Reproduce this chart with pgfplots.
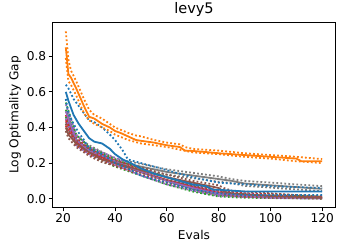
\documentclass[border=0pt]{standalone}
\usepackage{pgfplots}
\pgfplotsset{compat=1.18}
\usepackage{fontspec}
\setmainfont{DejaVu Sans}
\definecolor{C0}{HTML}{1F77B4}
\definecolor{C1}{HTML}{FF7F0E}
\definecolor{C2}{HTML}{2CA02C}
\definecolor{C3}{HTML}{D62728}
\definecolor{C4}{HTML}{9467BD}
\definecolor{C5}{HTML}{8C564B}
\definecolor{C7}{HTML}{7F7F7F}
\begin{document}
\begin{tikzpicture}[x=1bp,y=1bp]
\useasboundingbox (0,0) rectangle (338bp,243bp);
\begin{axis}[
  at={(53bp,36bp)}, anchor=south west,
  scale only axis, width=282bp, height=184bp,
  xmin=16.05, xmax=124.95, ymin=-0.047, ymax=0.987,
  xtick={20,40,60,80,100,120},
  ytick={0,0.2,0.4,0.6,0.8},
  /pgf/number format/assume math mode=true,
  yticklabel style={/pgf/number format/fixed,/pgf/number format/fixed zerofill,/pgf/number format/precision=1},
  tick label style={font=\fontsize{12.2}{14}\selectfont},
  label style={font=\fontsize{12.2}{14}\selectfont},
  title style={font=\fontsize{14.6}{17}\selectfont, yshift=-3bp},
  title={levy5}, xlabel={Evals}, ylabel={Log Optimality Gap},
  xlabel style={yshift=0bp}, ylabel style={yshift=-1bp},
  xticklabel style={yshift=1bp}, yticklabel style={xshift=1bp},
  tick align=outside, xtick pos=bottom, ytick pos=left,
  major tick length=4.3bp, axis line style={line width=1bp},
  every tick/.style={line width=1bp, black},
  every axis plot/.append style={line width=1.8bp},
  dotstyle/.style={dash pattern=on 1.8bp off 2.2bp},
]
% gray
\addplot[C7, dotstyle] coordinates {(21,0.47)(25,0.35)(30,0.30)(40,0.225)(50,0.195)(60,0.165)(70,0.145)(80,0.125)(85,0.11)(90,0.10)(100,0.09)(110,0.08)(120,0.07)};
\addplot[C7] coordinates {(21,0.45)(25,0.33)(30,0.28)(40,0.21)(50,0.18)(60,0.15)(70,0.13)(80,0.11)(85,0.10)(90,0.085)(100,0.075)(110,0.065)(120,0.055)};
\addplot[C7, dotstyle] coordinates {(21,0.43)(25,0.31)(30,0.26)(40,0.195)(50,0.165)(60,0.135)(70,0.115)(80,0.095)(85,0.088)(90,0.072)(100,0.062)(110,0.052)(120,0.042)};
% green
\addplot[C2, dotstyle] coordinates {(21,0.54)(25,0.36)(30,0.29)(40,0.22)(50,0.17)(60,0.12)(70,0.07)(80,0.035)(90,0.02)(120,0.012)};
\addplot[C2] coordinates {(21,0.50)(25,0.33)(30,0.27)(40,0.20)(50,0.15)(60,0.10)(70,0.055)(80,0.022)(90,0.012)(120,0.005)};
\addplot[C2, dotstyle] coordinates {(21,0.46)(25,0.30)(30,0.25)(40,0.18)(50,0.13)(60,0.08)(70,0.04)(80,0.012)(90,0.005)(120,0.0)};
% red
\addplot[C3, dotstyle] coordinates {(21,0.47)(25,0.34)(30,0.28)(40,0.215)(50,0.165)(60,0.12)(70,0.08)(80,0.045)(90,0.03)(120,0.015)};
\addplot[C3] coordinates {(21,0.44)(25,0.32)(30,0.265)(40,0.20)(50,0.15)(60,0.105)(70,0.065)(80,0.035)(90,0.02)(120,0.007)};
\addplot[C3, dotstyle] coordinates {(21,0.41)(25,0.30)(30,0.25)(40,0.185)(50,0.135)(60,0.09)(70,0.05)(80,0.025)(90,0.01)(120,0.002)};
% purple
\addplot[C4, dotstyle] coordinates {(21,0.53)(25,0.36)(30,0.29)(40,0.23)(50,0.17)(60,0.12)(70,0.075)(80,0.035)(100,0.018)(120,0.01)};
\addplot[C4] coordinates {(21,0.49)(25,0.33)(30,0.27)(40,0.21)(50,0.15)(60,0.10)(70,0.06)(80,0.025)(100,0.01)(120,0.005)};
\addplot[C4, dotstyle] coordinates {(21,0.45)(25,0.30)(30,0.25)(40,0.19)(50,0.13)(60,0.08)(70,0.045)(80,0.015)(100,0.004)(120,0.0)};
% brown
\addplot[C5, dotstyle] coordinates {(21,0.42)(22,0.38)(25,0.33)(30,0.28)(35,0.235)(40,0.215)(50,0.175)(60,0.135)(70,0.10)(80,0.075)(82,0.06)(85,0.045)(100,0.03)(120,0.01)};
\addplot[C5] coordinates {(21,0.40)(22,0.36)(25,0.31)(30,0.26)(35,0.22)(40,0.20)(50,0.16)(60,0.12)(70,0.09)(80,0.06)(82,0.04)(85,0.03)(100,0.015)(120,0.005)};
\addplot[C5, dotstyle] coordinates {(21,0.38)(22,0.34)(25,0.29)(30,0.24)(35,0.205)(40,0.185)(50,0.145)(60,0.105)(70,0.075)(80,0.045)(82,0.025)(85,0.018)(100,0.005)(120,0.0)};
% blue
\addplot[C0, dotstyle] coordinates {(21,0.64)(22,0.62)(24,0.56)(26,0.52)(28,0.48)(30,0.44)(32,0.43)(35,0.40)(38,0.36)(40,0.33)(43,0.27)(45,0.22)(50,0.20)(55,0.18)(60,0.16)(70,0.12)(80,0.09)(90,0.08)(100,0.07)(110,0.065)(120,0.06)};
\addplot[C0] coordinates {(21,0.60)(22,0.55)(24,0.47)(26,0.42)(28,0.38)(30,0.34)(32,0.32)(35,0.31)(38,0.28)(40,0.25)(43,0.22)(46,0.20)(50,0.17)(55,0.14)(60,0.12)(65,0.10)(70,0.08)(75,0.07)(78,0.05)(80,0.05)(85,0.045)(90,0.04)(100,0.04)(110,0.04)(120,0.04)};
\addplot[C0, dotstyle] coordinates {(21,0.56)(22,0.48)(24,0.42)(26,0.37)(28,0.33)(30,0.28)(32,0.27)(35,0.25)(38,0.22)(40,0.20)(45,0.17)(50,0.13)(55,0.11)(60,0.09)(70,0.05)(80,0.03)(90,0.02)(100,0.02)(120,0.02)};
% orange
\addplot[C1, dotstyle] coordinates {(21,0.94)(22,0.78)(23,0.72)(25,0.66)(28,0.56)(30,0.50)(32,0.47)(35,0.45)(38,0.42)(40,0.40)(45,0.37)(48,0.355)(50,0.35)(55,0.33)(60,0.315)(65,0.305)(67,0.29)(70,0.28)(80,0.27)(90,0.255)(100,0.245)(110,0.235)(120,0.222)};
\addplot[C1] coordinates {(21,0.85)(22,0.70)(23,0.68)(25,0.62)(28,0.52)(30,0.46)(32,0.45)(35,0.42)(38,0.40)(40,0.38)(42,0.37)(45,0.35)(48,0.33)(50,0.325)(55,0.315)(60,0.30)(65,0.29)(67,0.27)(70,0.268)(75,0.262)(80,0.255)(90,0.245)(100,0.235)(110,0.225)(112,0.21)(120,0.21)};
\addplot[C1, dotstyle] coordinates {(21,0.79)(22,0.66)(23,0.64)(25,0.58)(28,0.48)(30,0.44)(32,0.42)(35,0.40)(38,0.38)(40,0.36)(45,0.33)(50,0.31)(55,0.30)(60,0.29)(65,0.275)(70,0.26)(80,0.25)(90,0.235)(100,0.225)(110,0.21)(120,0.20)};
\end{axis}
\end{tikzpicture}
\end{document}
